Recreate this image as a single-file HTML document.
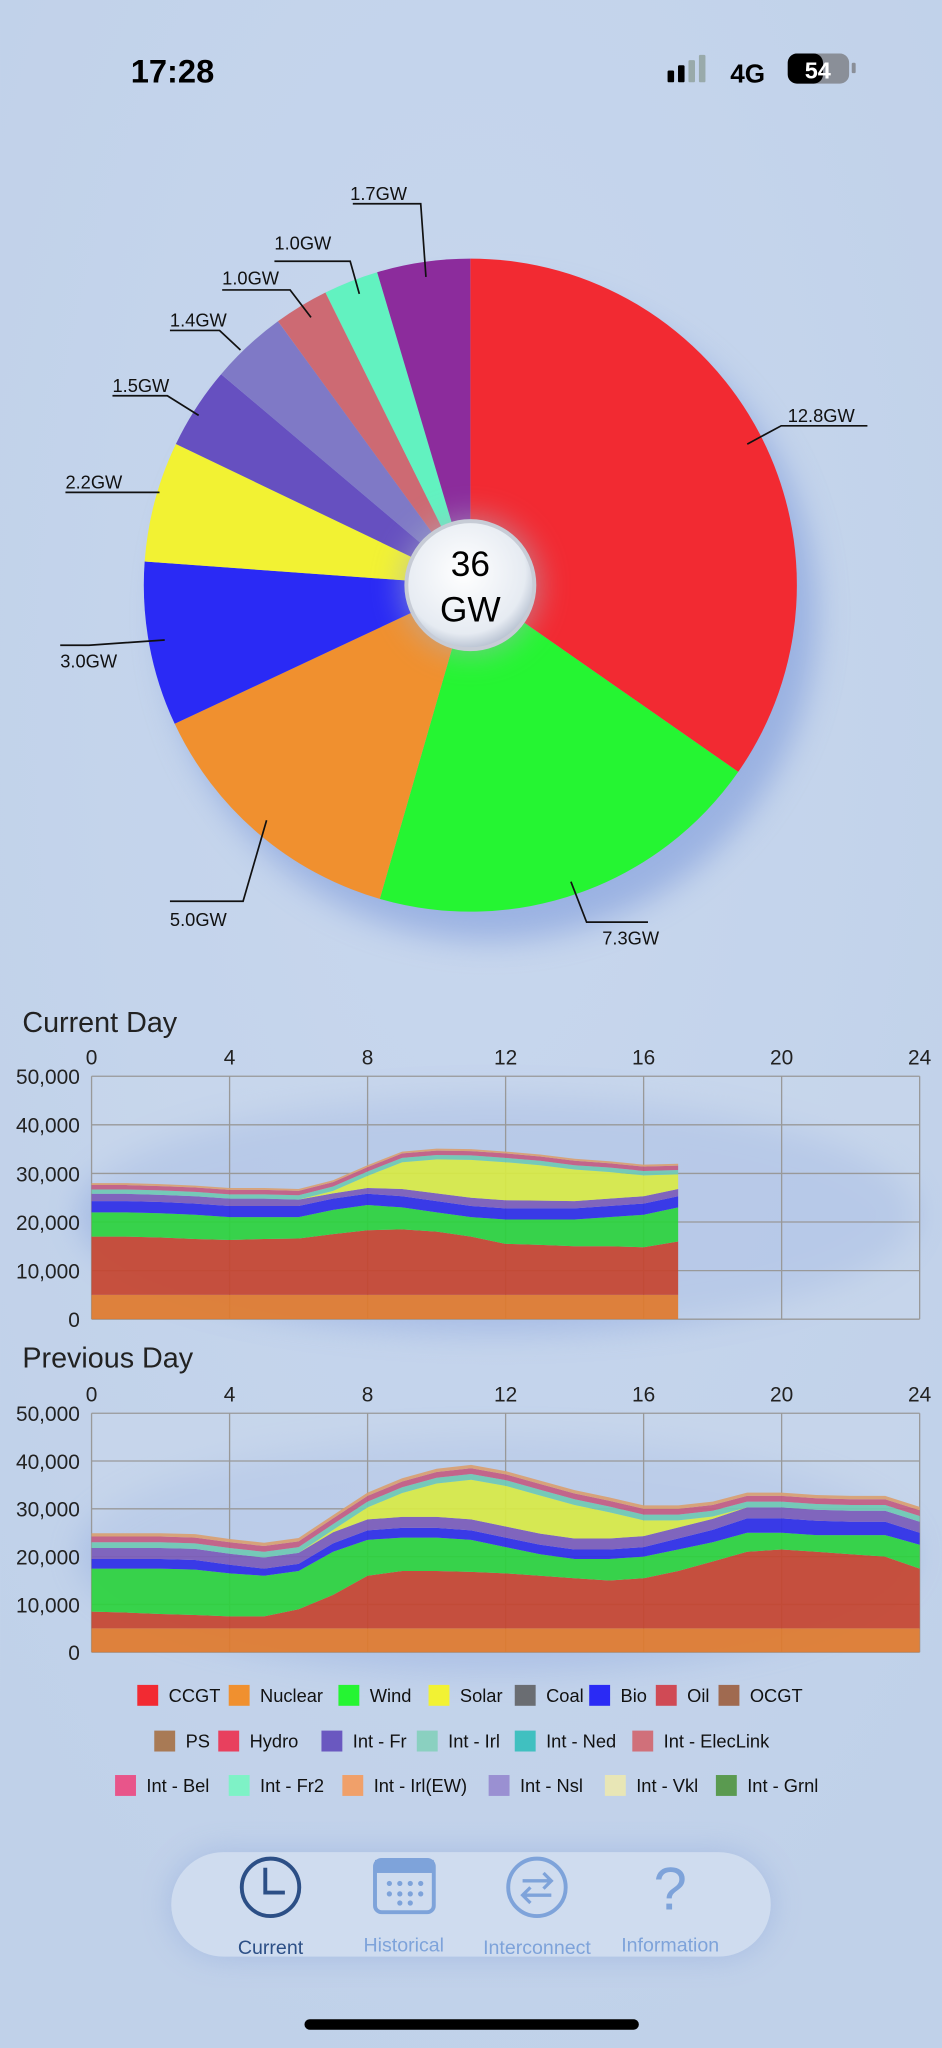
<!DOCTYPE html>
<html><head><meta charset="utf-8"><style>
html,body{margin:0;padding:0;background:#c3d3ea;}
svg{display:block;font-family:"Liberation Sans",sans-serif;}
</style></head><body>
<svg id="s" width="942" height="2048" viewBox="0 0 721 1568" xmlns="http://www.w3.org/2000/svg">
<defs>
<radialGradient id="bg" cx="0.5" cy="0.35" r="0.7"><stop offset="0" stop-color="#c8d7ee"/><stop offset="1" stop-color="#c0d1e9"/></radialGradient>
<radialGradient id="cc" cx="0.45" cy="0.4" r="0.6"><stop offset="0" stop-color="#ffffff"/><stop offset="0.8" stop-color="#e6ebf2"/><stop offset="1" stop-color="#b9c3d2"/></radialGradient>
<filter id="sh" x="-30%" y="-30%" width="160%" height="160%"><feGaussianBlur stdDeviation="12"/></filter>
</defs>
<rect width="721" height="1568" fill="url(#bg)"/>
<text x="100" y="63" font-size="25" font-weight="bold" fill="#000">17:28</text>
<rect x="511" y="54" width="5" height="9" rx="1" fill="#000"/><rect x="519" y="50" width="5" height="13" rx="1" fill="#000"/><rect x="527" y="46" width="5" height="17" rx="1" fill="#9aa"/><rect x="535" y="42" width="5" height="21" rx="1" fill="#9aa"/>
<text x="559" y="63" font-size="20" font-weight="bold">4G</text>
<rect x="603" y="41" width="47" height="23" rx="7" fill="#8a8f98"/><rect x="603" y="41" width="27" height="23" rx="7" fill="#000"/>
<text x="626" y="60" font-size="18" font-weight="bold" fill="#fff" text-anchor="middle">54</text>
<rect x="652" y="48" width="3" height="8" rx="1" fill="#8a8f98"/>

<ellipse cx="375" cy="470" rx="250" ry="250" fill="#6f8fd8" opacity="0.5" filter="url(#sh)"/>
<g id="pie"></g>
<circle cx="360" cy="448" r="52" fill="#aab4c4" opacity="0.6" filter="url(#sh)"/>
<circle cx="360" cy="448" r="49" fill="url(#cc)" stroke="#c7ccd6" stroke-width="3"/>
<text x="360" y="441" font-size="27" text-anchor="middle">36</text>
<text x="360" y="476" font-size="27" text-anchor="middle">GW</text>
<g id="lbl" font-size="14" fill="#111"></g>

<ellipse cx="380" cy="930" rx="320" ry="90" fill="#6f8fd8" opacity="0.35" filter="url(#sh)"/>
<ellipse cx="380" cy="1190" rx="320" ry="90" fill="#6f8fd8" opacity="0.25" filter="url(#sh)"/>
<text x="17" y="790" font-size="22" fill="#222">Current Day</text>
<text x="17" y="1047" font-size="22" fill="#222">Previous Day</text>
<g id="c1"></g><g id="c2"></g>
<g id="leg" font-size="14" fill="#111"></g>

<rect x="131" y="1418" width="459" height="80" rx="40" fill="#7f9ad8" opacity="0.4" filter="url(#sh)"/>
<rect x="131" y="1418" width="459" height="80" rx="40" fill="#cfdcef"/>
<circle cx="207" cy="1445" r="22" fill="none" stroke="#2c4f86" stroke-width="3"/>
<path d="M203 1430 V1449 H218" fill="none" stroke="#2c4f86" stroke-width="3"/>
<text x="207" y="1496" font-size="15" text-anchor="middle" fill="#2c4f86">Current</text>
<rect x="287" y="1424" width="45" height="40" rx="5" fill="none" stroke="#7ea3da" stroke-width="3"/><rect x="287" y="1424" width="45" height="10" fill="#7ea3da"/>
<g fill="#7ea3da"><circle cx="298" cy="1442" r="2"/><circle cx="306" cy="1442" r="2"/><circle cx="314" cy="1442" r="2"/><circle cx="322" cy="1442" r="2"/><circle cx="298" cy="1450" r="2"/><circle cx="306" cy="1450" r="2"/><circle cx="314" cy="1450" r="2"/><circle cx="322" cy="1450" r="2"/><circle cx="306" cy="1457" r="2"/><circle cx="314" cy="1457" r="2"/></g>
<text x="309" y="1494" font-size="15" text-anchor="middle" fill="#7ea3da">Historical</text>
<circle cx="411" cy="1445" r="22" fill="none" stroke="#7ea3da" stroke-width="3"/>
<path d="M400 1440 H422 M416 1434 L422 1440 L416 1446 M422 1451 H400 M406 1445 L400 1451 L406 1457" fill="none" stroke="#7ea3da" stroke-width="2.5"/>
<text x="411" y="1496" font-size="15" text-anchor="middle" fill="#7ea3da">Interconnect</text>
<text x="513" y="1462" font-size="46" text-anchor="middle" fill="#7ea3da">?</text>
<text x="513" y="1494" font-size="15" text-anchor="middle" fill="#7ea3da">Information</text>
<rect x="233" y="1546" width="256" height="8" rx="4" fill="#000"/>
</svg>
<script>
var NS="http://www.w3.org/2000/svg";
function el(p,t,a,txt){var e=document.createElementNS(NS,t);for(var k in a)e.setAttribute(k,a[k]);if(txt!=null)e.textContent=txt;p.appendChild(e);return e;}
var vals=[12.8,7.3,5.0,3.0,2.2,1.5,1.4,1.0,1.0,1.7];
var cols=["#f22a32","#25f532","#f0902f","#2a2af5","#f2f233","#6650c0","#7f79c6","#cd6a73","#62f2c0","#8c2c9c"];
var tot=vals.reduce(function(a,b){return a+b},0),cx=360,cy=448,R=250,a0=0,pie=document.getElementById("pie");
function P(a,r){a=a*Math.PI/180;return [cx+r*Math.sin(a),cy-r*Math.cos(a)];}
vals.forEach(function(v,i){var a1=a0+v/tot*360,p0=P(a0,R),p1=P(a1,R);
el(pie,"path",{d:"M"+cx+" "+cy+"L"+p0[0]+" "+p0[1]+"A"+R+" "+R+" 0 "+((a1-a0)>180?1:0)+" 1 "+p1[0]+" "+p1[1]+"Z",fill:cols[i]});a0=a1;});
var L=[["12.8GW",572,340,598,326,664,326,603,323],["7.3GW",437,675,449,706,496,706,461,723],["5.0GW",204,628,186,690,130,690,130,709],["3.0GW",126,490,68,494,46,494,46,511],["2.2GW",122,377,104,377,50,377,50,374],["1.5GW",152,318,128,303,86,303,86,300],["1.4GW",184,268,168,253,130,253,130,250],["1.0GW",238,243,222,222,170,222,170,218],["1.0GW",275,225,268,200,210,200,210,191],["1.7GW",326,212,322,156,270,156,268,153]];
var lg=document.getElementById("lbl");
L.forEach(function(l){el(lg,"path",{d:"M"+l[1]+" "+l[2]+"L"+l[3]+" "+l[4]+"L"+l[5]+" "+l[6],stroke:"#111",fill:"none","stroke-width":1.3});el(lg,"text",{x:l[7],y:l[8]},l[0]);});
function chart(g,top,bot,data){g=document.getElementById(g);var x0=70,x1=704,h=bot-top;
el(g,"rect",{x:x0,y:top,width:x1-x0,height:h,fill:"#c9d7ec",opacity:0.5});
for(var i=0;i<=6;i++){var x=x0+i*(x1-x0)/6;el(g,"line",{x1:x,y1:top,x2:x,y2:bot,stroke:"#999","stroke-width":1});el(g,"text",{x:x,y:top-9,"font-size":16,"text-anchor":"middle",fill:"#222"},String(i*4));}
for(var j=0;j<=5;j++){var y=top+j*h/5;el(g,"line",{x1:x0,y1:y,x2:x1,y2:y,stroke:"#999","stroke-width":1});el(g,"text",{x:61,y:y+6,"font-size":16,"text-anchor":"end",fill:"#222"},(j==5?"0":((5-j)*10)+",000"));}
var n=data[0][1].length,cum=[];for(var k=0;k<n;k++)cum.push(0);
function X(k){return x0+k*(x1-x0)/24;}function Y(v){return bot-v/50000*h;}
data.forEach(function(d){var lo=cum.slice(),s="";for(var k=0;k<n;k++)cum[k]+=d[1][k];
for(k=0;k<n;k++)s+=(k?"L":"M")+X(k).toFixed(1)+" "+Y(cum[k]).toFixed(1);
for(k=n-1;k>=0;k--)s+="L"+X(k).toFixed(1)+" "+Y(lo[k]).toFixed(1);
el(g,"path",{d:s+"Z",fill:d[0],opacity:0.92});});}
function c(v,n){var a=[];for(var i=0;i<n;i++)a.push(v);return a;}
function df(a,b){return a.map(function(v,i){return v-b[i];});}
var cg=[12000,12000,11800,11500,11300,11500,11600,12500,13300,13500,13000,12000,10500,10300,10000,10000,9800,11000];
var wd=[5000,5000,5000,5000,4700,4500,4400,5000,5200,4500,4000,4000,5000,5200,5500,6000,6700,7000];
var bi=c(2300,18);var it=[1500,1500,1500,1500,1500,1500,1300,1100,1200,1500,1600,1700,1700,1600,1500,1500,1500,1500];
var so=[0,0,0,0,0,0,0,500,2500,5500,7000,7800,7800,7300,6500,5500,4300,3000];
chart("c1",824,1010,[["#e07a2c",c(5000,18)],["#c6442f",cg],["#2bd23d",wd],["#2e2ee6",bi],["#7b5cb8",it],["#d8ea45",so],["#6fc9b3",c(900,18)],["#c25c82",c(900,18)],["#d9a070",c(400,18)]]);
var cg2=[3500,3300,3000,2800,2500,2500,4000,7000,11000,12000,12000,11800,11500,11000,10500,10000,10500,12000,14000,16000,16500,16000,15500,15000,12500];
var wdt=[17500,17500,17500,17300,16500,16000,17000,21000,23500,24000,24000,23500,22000,20500,19500,19500,20000,21500,23000,25000,25000,24500,24500,24500,22500];
var ct=cg2.map(function(v){return v+5000;});
var so2=[0,0,0,0,0,0,0,500,2500,5000,7000,8300,8500,8000,7000,5500,3300,1500,500,0,0,0,0,0,0];
var bi2=[2000,2000,2000,2000,1800,1500,1500,1800,2000,2000,2000,2000,2000,2000,2000,2000,2000,2300,2600,3000,3000,3000,2800,2800,2500];
var it2=c(2300,25);
chart("c2",1082,1265,[["#e07a2c",c(5000,25)],["#c6442f",cg2],["#2bd23d",df(wdt,ct)],["#2e2ee6",bi2],["#7b5cb8",it2],["#d8ea45",so2],["#6fc9b3",c(1200,25)],["#c25c82",c(1200,25)],["#d9a070",c(700,25)]]);
var LG=[[[105,"#f22a32","CCGT"],[175,"#f0902f","Nuclear"],[259,"#25f532","Wind"],[328,"#f2f233","Solar"],[394,"#6a6d72","Coal"],[451,"#2a2af5","Bio"],[502,"#d04a55","Oil"],[550,"#a06a50","OCGT"]],
[[118,"#a87a55","PS"],[167,"#e8405e","Hydro"],[246,"#6a58c0","Int - Fr"],[319,"#8ad0c0","Int - Irl"],[394,"#40c0c0","Int - Ned"],[484,"#d0707a","Int - ElecLink"]],
[[88,"#e8558a","Int - Bel"],[175,"#7ef2c6","Int - Fr2"],[262,"#f0a06a","Int - Irl(EW)"],[374,"#9a90d2","Int - Nsl"],[463,"#e8e6b6","Int - Vkl"],[548,"#5a9a50","Int - Grnl"]]];
var lgg=document.getElementById("leg"),ys=[1298,1333,1367];
LG.forEach(function(r,i){r.forEach(function(it){el(lgg,"rect",{x:it[0],y:ys[i]-8,width:16,height:16,fill:it[1]});el(lgg,"text",{x:it[0]+24,y:ys[i]+5},it[2]);});});
</script>
</body></html>
